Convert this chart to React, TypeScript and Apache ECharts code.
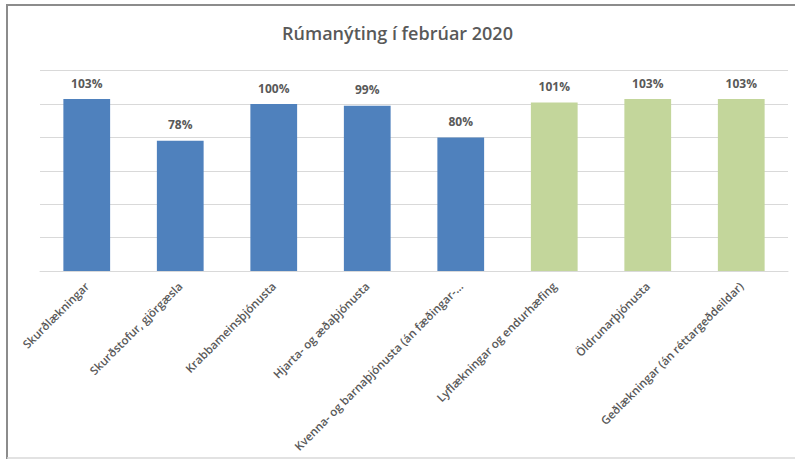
import React, { useEffect, useRef } from "react";
import * as echarts from "echarts";

const categories = [
  "Skurðlækningar",
  "Skurðstofur, gjörgæsla",
  "Krabbameinsþjónusta",
  "Hjarta- og æðaþjónusta",
  "Kvenna- og barnaþjónusta (án fæðingar-...",
  "Lyflækningar og endurhæfing",
  "Öldrunarþjónusta",
  "Geðlækningar (án réttargeðdeildar)",
];
const values = [103, 78, 100, 99, 80, 101, 103, 103];
const groups = ["a", "a", "a", "a", "a", "b", "b", "b"];
const title = "Rúmanýting í febrúar 2020";

const groupColors: Record<string, string> = { a: "#4F81BD", b: "#C3D69B" };

export default function App() {
  const ref = useRef<HTMLDivElement>(null);
  useEffect(() => {
    if (!ref.current) return;
    const chart = echarts.init(ref.current, undefined, { renderer: "svg" });
    chart.setOption({
      animation: false,
      backgroundColor: "#ffffff",
      title: {
        text: title,
        left: "center",
        top: 19,
        textStyle: {
          fontFamily: "Open Sans",
          fontSize: 18,
          fontWeight: 600,
          color: "#595959",
        },
      },
      graphic: [
        { type: "line", shape: { x1: 6, y1: 5, x2: 795, y2: 5 }, style: { stroke: "#8c8c8c", lineWidth: 2 } },
        { type: "line", shape: { x1: 7, y1: 4, x2: 7, y2: 459 }, style: { stroke: "#8c8c8c", lineWidth: 2 } },
        { type: "line", shape: { x1: 7, y1: 458, x2: 795, y2: 458 }, style: { stroke: "#d9d9d9", lineWidth: 1.5 } },
      ],
      grid: { left: 40, right: 7, top: 70.7, bottom: 188, containLabel: false },
      xAxis: {
        type: "category",
        data: categories,
        axisLine: { lineStyle: { color: "#D9D9D9", width: 1 } },
        axisTick: { show: false },
        axisLabel: {
          rotate: 45,
          interval: 0,
          margin: 13,
          fontFamily: "Open Sans",
          fontSize: 11.5,
          fontWeight: 600,
          color: "#595959",
        },
      },
      yAxis: {
        type: "value",
        min: 0,
        max: 120,
        interval: 20,
        axisLabel: { show: false },
        axisLine: { show: false },
        axisTick: { show: false },
        splitLine: { lineStyle: { color: "#D9D9D9", width: 1 } },
      },
      series: [
        {
          type: "bar",
          barWidth: "50%",
          data: values.map((v, i) => ({
            value: v,
            itemStyle: { color: groupColors[groups[i]] },
          })),
          label: {
            show: true,
            position: "top",
            distance: 10,
            formatter: (p: any) => p.value + "%",
            fontFamily: "Open Sans",
            fontSize: 12,
            fontWeight: "bold",
            color: "#595959",
          },
        },
      ],
    });
    return () => chart.dispose();
  }, []);
  return <div ref={ref} style={{ width: 795, height: 459, position: "absolute", left: 0, top: 0 }} />;
}
